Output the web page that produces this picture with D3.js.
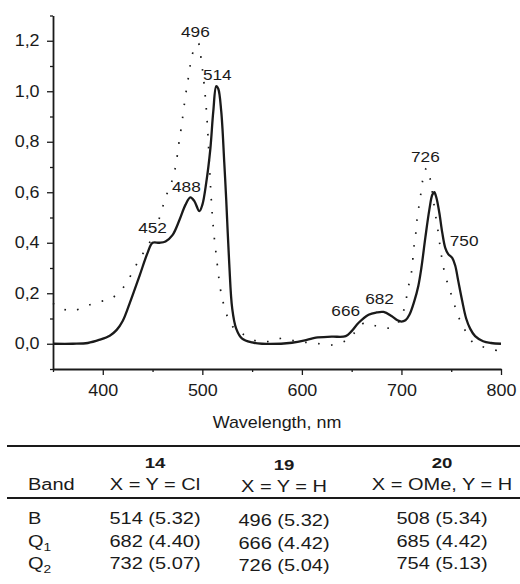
<!DOCTYPE html>
<html>
<head>
<meta charset="utf-8">
<script src="https://cdn.jsdelivr.net/npm/d3@7"></script>
<style>
  body { margin: 0; background: #fff; }
  svg { display: block; font-family: "Liberation Sans", Arial, sans-serif; }
</style>
</head>
<body>
<div id="chart"></div>
<script>
// Spectrum of 14 (solid)
var wl14 = [350, 370, 385, 397, 407, 414, 420, 427, 437, 445, 450, 457, 463, 470, 477, 483, 488, 492, 497, 500,
  504, 508, 511, 514, 516, 519, 522, 524, 527, 530, 534, 540, 550, 560, 590, 605, 614, 630, 644, 650,
  657, 667, 675, 682, 690, 696, 700, 704, 708, 713, 717, 720, 724, 728, 731, 733, 735, 738, 741, 744,
  747, 751, 754, 757, 761, 765, 769, 774, 782, 790, 800];
var abs14 = [0.0, 0.0, 0.003, 0.016, 0.032, 0.055, 0.09, 0.16, 0.27, 0.36, 0.40, 0.40, 0.405, 0.43, 0.49, 0.55, 0.58, 0.565, 0.525, 0.55,
  0.64, 0.77, 0.92, 1.02, 1.01, 0.92, 0.72, 0.57, 0.32, 0.14, 0.06, 0.02, 0.005, 0.0, 0.004, 0.015, 0.024, 0.028, 0.03, 0.05,
  0.083, 0.115, 0.124, 0.126, 0.11, 0.093, 0.088, 0.093, 0.115, 0.17, 0.23, 0.30, 0.42, 0.53, 0.59, 0.60, 0.58, 0.52, 0.44, 0.38,
  0.355, 0.34, 0.31, 0.25, 0.17, 0.10, 0.06, 0.03, 0.01, 0.003, 0.0];

// Spectrum of 19 (dotted)
var wl19 = [350, 356, 362, 370, 382, 395, 408, 420, 428, 436, 444, 452, 460, 465, 470, 473, 475, 477, 479, 481,
  483, 485, 487, 489, 493, 496, 498, 500, 502, 504, 506, 508, 510, 512, 514, 516, 518, 520, 524, 530,
  540, 555, 569, 580, 592, 605, 618, 630, 643, 652, 663, 675, 688, 695, 699, 704, 706, 709, 711, 712,
  714, 715, 717, 719, 721, 724, 726, 729, 732, 735, 737, 739, 741, 744, 748, 752, 757, 763, 772, 785, 800];
var abs19 = [0.16, 0.145, 0.135, 0.13, 0.147, 0.165, 0.178, 0.22, 0.27, 0.33, 0.38, 0.44, 0.54, 0.60, 0.65, 0.70, 0.75, 0.81, 0.86, 0.92,
  0.98, 1.03, 1.08, 1.13, 1.18, 1.19, 1.15, 1.09, 1.02, 0.93, 0.80, 0.64, 0.51, 0.42, 0.35, 0.28, 0.22, 0.18, 0.12, 0.07,
  0.04, 0.01, 0.01, 0.022, 0.012, 0.005, 0.0, -0.005, 0.01, 0.04, 0.083, 0.07, 0.062, 0.075, 0.10, 0.155, 0.21, 0.26, 0.31, 0.37,
  0.42, 0.47, 0.53, 0.58, 0.64, 0.69, 0.695, 0.65, 0.57, 0.49, 0.44, 0.38, 0.33, 0.27, 0.22, 0.17, 0.11, 0.06, 0.005, -0.016, -0.03];

// Peak labels: text and anchor (wavelength, absorbance) of label baseline
var peakText = ["496", "514", "488", "452", "666", "682", "726", "750"];
var peakWl = [493, 515, 484, 450, 644, 678, 724, 763];
var peakAbs = [1.216, 1.046, 0.602, 0.44, 0.111, 0.158, 0.721, 0.388];

var xTicks = [400, 500, 600, 700, 800];
var yTicks = [0, 0.2, 0.4, 0.6, 0.8, 1.0, 1.2];

// Table
var compounds = ["14", "19", "20"];
var substituents = ["X = Y = Cl", "X = Y = H", "X = OMe, Y = H"];
var bands = ["B", "Q", "Q"];
var bandSub = ["", "1", "2"];
var col14 = ["514 (5.32)", "682 (4.40)", "732 (5.07)"];
var col19 = ["496 (5.32)", "666 (4.42)", "726 (5.04)"];
var col20 = ["508 (5.34)", "685 (4.42)", "754 (5.13)"];

var svgWidth = 520;
var svgHeight = 584;
var ink = "#1a1a1a";

var svg = d3.select("#chart")
  .append("svg")
  .attr("width", svgWidth)
  .attr("height", svgHeight);

var x = d3.scaleLinear().domain([350, 800]).range([53, 501]);
var y = d3.scaleLinear().domain([-0.1, 1.3]).range([369, 15.5]);

// horizontally stretched text, like the source figure
function stext(g, px, py, str, size, sx, anchor) {
  return g.append("text")
    .attr("transform", `translate(${px},${py}) scale(${sx},1)`)
    .attr("text-anchor", anchor || "middle")
    .attr("font-size", size)
    .attr("fill", ink)
    .text(str);
}

// Axes
var fmt = d => d3.format(".1f")(d).replace(".", ",");

var yMinor = svg.append("g")
  .attr("transform", "translate(53,0)")
  .call(d3.axisLeft(y).tickValues(d3.range(-0.1, 1.31, 0.2)).tickSize(3).tickFormat(""));
var yAxis = svg.append("g")
  .attr("transform", "translate(53,0)")
  .call(d3.axisLeft(y).tickValues(yTicks).tickSize(6).tickSizeOuter(0).tickPadding(6).tickFormat(fmt));

var xMinor = svg.append("g")
  .attr("transform", "translate(0,369)")
  .call(d3.axisBottom(x).tickValues([350, 450, 550, 650, 750]).tickSize(3).tickFormat(""));
var xAxis = svg.append("g")
  .attr("transform", "translate(0,369)")
  .call(d3.axisBottom(x).tickValues(xTicks).tickSize(6).tickSizeOuter(0).tickPadding(10));

svg.selectAll(".domain").attr("stroke", ink).attr("stroke-width", 1.8);
svg.selectAll(".tick line").attr("stroke", ink).attr("stroke-width", 1.3);
yMinor.select(".domain").remove();
xMinor.select(".domain").remove();

yAxis.selectAll("text")
  .attr("font-size", 16).attr("fill", ink)
  .attr("font-family", "Liberation Sans, Arial, sans-serif")
  .attr("transform", "scale(1.12,1)");
xAxis.selectAll("text")
  .attr("font-size", 16).attr("fill", ink)
  .attr("font-family", "Liberation Sans, Arial, sans-serif")
  .attr("transform", "scale(1.12,1)");

stext(svg, 277, 428, "Wavelength, nm", 16, 1.12);

// Curves
var line = d3.line()
  .x(d => x(d[0]))
  .y(d => y(d[1]))
  .curve(d3.curveCatmullRom.alpha(0.5));

svg.append("path")
  .datum(d3.zip(wl19, abs19))
  .attr("d", line)
  .attr("fill", "none")
  .attr("stroke", ink)
  .attr("stroke-width", 1.7)
  .attr("stroke-dasharray", "1.6,11.4");

svg.append("path")
  .datum(d3.zip(wl14, abs14))
  .attr("d", line)
  .attr("fill", "none")
  .attr("stroke", ink)
  .attr("stroke-width", 2.3)
  .attr("stroke-linejoin", "round");

// Peak labels
peakText.forEach(function(t, i) {
  stext(svg, x(peakWl[i]), y(peakAbs[i]), t, 15, 1.15);
});

// Table
var table = svg.append("g");
var colX = [155, 284, 442];
var colDy = [0, 2, 0];

table.append("line")
  .attr("x1", 7).attr("x2", 520).attr("y1", 446).attr("y2", 446)
  .attr("stroke", ink).attr("stroke-width", 2);
table.append("line")
  .attr("x1", 7).attr("x2", 520).attr("y1", 498).attr("y2", 498)
  .attr("stroke", ink).attr("stroke-width", 1.8);

compounds.forEach(function(c, i) {
  stext(table, colX[i], 468 + colDy[i], c, 15.5, 1.2).attr("font-weight", "bold");
  stext(table, colX[i], 490 + colDy[i], substituents[i], 16, 1.25);
});
stext(table, 28, 490, "Band", 16, 1.25, "start");

var rowY = [524, 546.5, 569];
var cols = [col14, col19, col20];
bands.forEach(function(b, r) {
  var t = stext(table, 28, rowY[r], b, 16, 1.25, "start");
  if (bandSub[r]) {
    t.append("tspan").attr("font-size", 11).attr("dy", 4).text(bandSub[r]);
  }
  cols.forEach(function(col, i) {
    stext(table, colX[i], rowY[r] + colDy[i], col[r], 16, 1.25);
  });
});
</script>
</body>
</html>
